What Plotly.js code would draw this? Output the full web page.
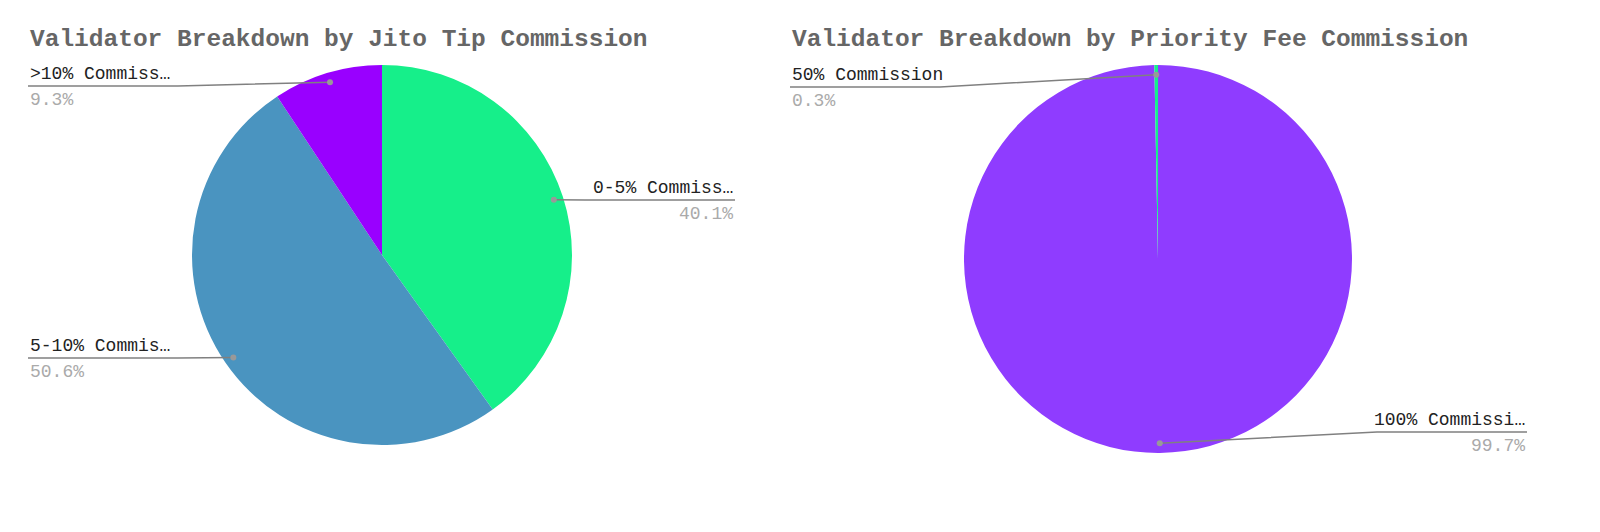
<!DOCTYPE html>
<html>
<head>
<meta charset="utf-8">
<script src="https://cdn.plot.ly/plotly-3.0.1.min.js"></script>
<style>html,body{margin:0;padding:0;background:#fff}#chart{width:1600px;height:532px}</style>
</head>
<body>
<div id="chart"></div>
<script>
// ---- data ----
const jitoTitle = 'Validator Breakdown by Jito Tip Commission';
const jitoLabels = ['0-5% Commiss…', '5-10% Commis…', '>10% Commiss…'];
const jitoValues = [40.1, 50.6, 9.3];
const jitoColors = ['#16EF8A', '#4A94C0', '#9900FF'];

const prioTitle = 'Validator Breakdown by Priority Fee Commission';
const prioLabels = ['100% Commissi…', '50% Commission'];
const prioValues = [99.7, 0.3];
const prioColors = ['#8F3CFF', '#16EF8A'];

// ---- layout config (pixels) ----
const W = 1600, H = 532;
const FONT = 'Liberation Mono, Courier New, monospace';
const pies = [
  { title: jitoTitle, labels: jitoLabels, values: jitoValues, colors: jitoColors,
    cx: 382, cy: 255, r: 190, titleX: 28,
    labelPos: [ {side:'right', edge:735, y:200}, {side:'left', edge:28, y:358}, {side:'left', edge:28, y:86} ] },
  { title: prioTitle, labels: prioLabels, values: prioValues, colors: prioColors,
    cx: 1158, cy: 259, r: 194, titleX: 790,
    labelPos: [ {side:'right', edge:1527, y:432}, {side:'left', edge:790, y:87} ] }
];

const px = x => x / W;
const py = y => 1 - y / H;

const traces = [], shapes = [], annotations = [];
pies.forEach((p, i) => {
  traces.push({
    type: 'pie', labels: p.labels, values: p.values, sort: false,
    direction: 'clockwise', rotation: 0, textinfo: 'none',
    marker: { colors: p.colors, line: { width: 0 } },
    domain: { x: [px(p.cx - p.r), px(p.cx + p.r)], y: [py(p.cy + p.r), py(p.cy - p.r)] },
    showlegend: false, hoverinfo: 'label+percent'
  });
  annotations.push({
    xref: 'paper', yref: 'paper', x: px(p.titleX), y: py(39), xanchor: 'left', yanchor: 'middle',
    text: '<b>' + p.title + '</b>', showarrow: false,
    font: { family: FONT, size: 24.5, color: '#666666' }
  });
  const total = p.values.reduce((a, b) => a + b, 0);
  let cum = 0;
  p.values.forEach((v, j) => {
    const mid = (cum + v / 2) / total * 2 * Math.PI;
    cum += v;
    const dr = 0.95 * p.r;
    const dx = p.cx + dr * Math.sin(mid), dy = p.cy - dr * Math.cos(mid);
    const lp = p.labelPos[j];
    const span = 150;
    const inner = lp.side === 'left' ? lp.edge + span : lp.edge - span;
    const pct = (v / total * 100).toFixed(1) + '%';
    shapes.push({
      type: 'path', xref: 'paper', yref: 'paper',
      path: `M ${px(dx)} ${py(dy)} L ${px(inner)} ${py(lp.y)} L ${px(lp.edge)} ${py(lp.y)}`,
      line: { color: '#808080', width: 1.5 }
    });
    shapes.push({
      type: 'circle', xref: 'paper', yref: 'paper',
      x0: px(dx - 3), x1: px(dx + 3), y0: py(dy + 3), y1: py(dy - 3),
      fillcolor: '#999999', line: { width: 0 }
    });
    const xa = lp.side === 'left' ? 'left' : 'right';
    annotations.push({
      xref: 'paper', yref: 'paper', x: px(lp.edge), y: py(lp.y), xanchor: xa, yanchor: 'bottom',
      text: p.labels[j], showarrow: false, font: { family: FONT, size: 18, color: '#222222' }
    });
    annotations.push({
      xref: 'paper', yref: 'paper', x: px(lp.edge), y: py(lp.y + 2), xanchor: xa, yanchor: 'top',
      text: pct, showarrow: false, font: { family: FONT, size: 18, color: '#AAAAAA' }
    });
  });
});

Plotly.newPlot('chart', traces, {
  width: W, height: H, margin: { l: 0, r: 0, t: 0, b: 0 },
  paper_bgcolor: '#ffffff', plot_bgcolor: '#ffffff',
  shapes: shapes, annotations: annotations
}, { displayModeBar: false, staticPlot: true });
</script>
</body>
</html>
